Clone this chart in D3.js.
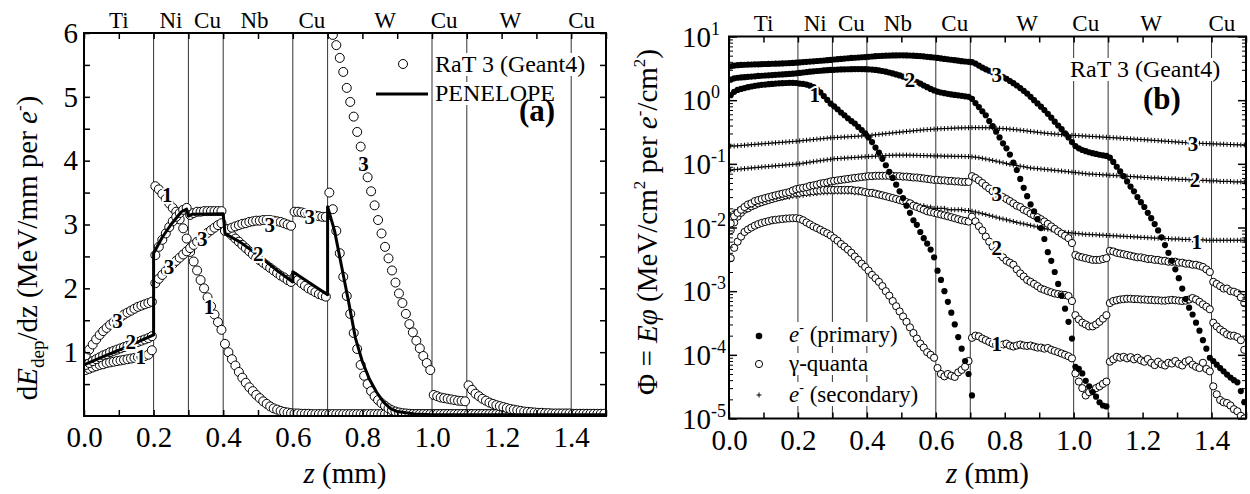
<!DOCTYPE html>
<html><head><meta charset="utf-8">
<script src="https://cdnjs.cloudflare.com/ajax/libs/d3/7.8.5/d3.min.js"></script>
<style>
body{margin:0;background:#fff}
text{font-family:'Liberation Serif','LiberationSerif','Times New Roman',Times,'DejaVu Serif',serif !important}
</style>
</head><body>
<svg id="c" width="1250" height="494"></svg>
<script>
// ---------------- DATA ----------------
// bin centres (mm): 0.005 ... 1.495, step 0.01
const zBins = d3.range(150).map(i => +(0.005 + 0.01 * i).toFixed(3));
const layerBounds = [0.2, 0.3, 0.4, 0.6, 0.7, 1.0, 1.1, 1.4];
const layerNames = ["Ti", "Ni", "Cu", "Nb", "Cu", "W", "Cu", "W", "Cu"];
const layerLabelZ = [0.1, 0.25, 0.355, 0.49, 0.655, 0.865, 1.035, 1.225, 1.43];
const xTickLabels = [0, 0.2, 0.4, 0.6, 0.8, 1.0, 1.2, 1.4];
const yTickLabelsA = [1, 2, 3, 4, 5, 6];
const yTickLabelsB = [1e-5, 1e-4, 1e-3, 1e-2, 1e-1, 1, 10];

// (a) dE_dep/dz, RaT 3 (Geant4), energies 1,2,3
const a1 = [0.72,0.74,0.76,0.78,0.80,0.81,0.83,0.84,0.85,0.86,0.87,0.88,0.89,0.90,0.91,0.92,0.93,0.94,0.96,1.03,
 3.60,3.55,3.48,3.40,3.33,3.26,3.20,3.08,2.94,2.78,
 2.57,2.42,2.28,2.13,2.00,1.86,1.72,1.59,1.47,1.35,
 1.13,1.00,0.89,0.79,0.69,0.60,0.52,0.45,0.39,0.33,0.28,0.23,0.19,0.15,0.12,0.10,0.08,0.065,0.055,0.045,
 0.04,0.04,0.035,0.035,0.035,0.03,0.03,0.03,0.03,0.03,
 0.03,0.03,0.03,0.03,0.03,0.03,0.03,0.03,0.03,0.03,0.03,0.03,0.03,0.03,0.03,0.03,0.03,0.03,0.03,0.03,0.03,0.03,0.03,0.03,0.03,0.03,0.03,0.03,0.03,0.03,
 0.03,0.03,0.03,0.03,0.03,0.03,0.03,0.03,0.03,0.03,
 0.03,0.03,0.03,0.03,0.03,0.03,0.03,0.03,0.03,0.03,0.03,0.03,0.03,0.03,0.03,0.03,0.03,0.03,0.03,0.03,0.03,0.03,0.03,0.03,0.03,0.03,0.03,0.03,0.03,0.03,
 0.03,0.03,0.03,0.03,0.03,0.03,0.03,0.03,0.03,0.03];
const a2 = [0.80,0.83,0.86,0.89,0.92,0.95,0.97,1.00,1.02,1.04,1.06,1.08,1.10,1.12,1.14,1.16,1.18,1.20,1.22,1.25,
 2.52,2.65,2.76,2.86,2.96,3.05,3.12,3.18,3.23,3.26,
 3.15,3.18,3.20,3.20,3.21,3.21,3.21,3.21,3.21,3.21,
 2.93,2.88,2.83,2.78,2.73,2.68,2.63,2.58,2.53,2.48,2.44,2.40,2.36,2.32,2.28,2.24,2.20,2.17,2.13,2.10,
 2.18,2.13,2.08,2.04,2.00,1.97,1.94,1.91,1.89,1.87,
 3.50,3.24,2.90,2.55,2.18,1.88,1.60,1.30,1.05,0.80,0.63,0.50,0.39,0.31,0.25,0.20,0.16,0.12,0.09,0.07,0.055,0.045,0.04,0.035,0.03,0.03,0.03,0.03,0.03,0.03,
 0.03,0.03,0.03,0.03,0.03,0.03,0.03,0.03,0.03,0.03,
 0.03,0.03,0.03,0.03,0.03,0.03,0.03,0.03,0.03,0.03,0.03,0.03,0.03,0.03,0.03,0.03,0.03,0.03,0.03,0.03,0.03,0.03,0.03,0.03,0.03,0.03,0.03,0.03,0.03,0.03,
 0.03,0.03,0.03,0.03,0.03,0.03,0.03,0.03,0.03,0.03];
const a3 = [0.95,1.04,1.12,1.20,1.27,1.33,1.38,1.43,1.47,1.51,1.55,1.59,1.62,1.65,1.68,1.71,1.73,1.75,1.77,1.79,
 2.08,2.15,2.21,2.27,2.33,2.38,2.43,2.48,2.53,2.58,
 2.63,2.68,2.73,2.78,2.83,2.87,2.91,2.95,2.99,3.02,
 2.90,2.93,2.95,2.97,2.99,3.01,3.02,3.04,3.05,3.06,3.06,3.07,3.07,3.07,3.06,3.05,3.04,3.02,3.00,2.98,
 3.20,3.20,3.19,3.18,3.17,3.15,3.14,3.13,3.12,3.12,
 6.15,5.97,5.81,5.61,5.39,5.14,4.92,4.69,4.45,4.22,3.98,3.74,3.52,3.30,3.07,2.86,2.65,2.47,2.28,2.09,1.92,1.77,1.60,1.44,1.31,1.18,1.06,0.94,0.83,0.72,
 0.33,0.31,0.29,0.28,0.27,0.26,0.25,0.24,0.235,0.23,
 0.48,0.41,0.35,0.31,0.27,0.24,0.21,0.19,0.17,0.155,0.14,0.125,0.11,0.10,0.09,0.08,0.07,0.065,0.06,0.055,0.05,0.05,0.045,0.045,0.04,0.04,0.04,0.04,0.04,0.04,
 0.035,0.035,0.035,0.035,0.035,0.035,0.035,0.035,0.035,0.035];
// PENELOPE (energy 2)
const penZ = [0,0.05,0.1,0.15,0.2,0.2,0.225,0.25,0.28,0.295,0.3,0.31,0.4,0.405,0.45,0.5,0.55,0.6,0.6,0.65,0.7,0.7,0.72,0.74,0.76,0.78,0.8,0.82,0.84,0.86,0.88,0.9,0.95,1.0,1.1,1.2,1.3,1.4,1.5];
const penV = [0.8,0.92,1.03,1.15,1.27,2.55,2.8,3.0,3.2,3.24,3.13,3.16,3.17,2.86,2.72,2.52,2.3,2.1,2.26,2.08,1.9,3.28,2.9,2.35,1.8,1.22,0.85,0.58,0.38,0.22,0.12,0.07,0.03,0.02,0.02,0.02,0.02,0.02,0.02];

// (b) energy flux: primary electrons
const p1 = [1.20,1.35,1.45,1.50,1.55,1.60,1.64,1.68,1.71,1.74,1.76,1.78,1.80,1.82,1.84,1.85,1.86,1.87,1.87,1.86,
 1.82,1.80,1.76,1.69,1.60,1.48,1.33,1.16,1.01,0.88,
 0.80,0.72,0.64,0.58,0.52,0.47,0.43,0.38,0.34,0.30,
 0.26,0.22,0.18,0.15,0.12,0.095,0.075,0.06,0.047,0.037,0.029,0.022,0.017,0.013,0.011,0.0085,0.0068,0.0056,0.0045,0.0034,
 0.0021,0.0015,0.001,0.00068,0.00046,0.0003,0.00019,0.000125,0.00008,0.00005,
 0.000023,null,null,null,null,null,null,null,null,null,null,null,null,null,null,null,null,null,null,null,null,null,null,null,null,null,null,null,null,null,
 null,null,null,null,null,null,null,null,null,null,
 null,null,null,null,null,null,null,null,null,null,null,null,null,null,null,null,null,null,null,null,null,null,null,null,null,null,null,null,null,null,
 null,null,null,null,null,null,null,null,null,null];
const p2 = [2.10,2.20,2.25,2.28,2.30,2.33,2.35,2.37,2.40,2.42,2.44,2.46,2.48,2.50,2.52,2.54,2.56,2.58,2.61,2.64,
 2.68,2.72,2.76,2.80,2.84,2.87,2.90,2.93,2.96,2.98,
 3.00,3.02,3.04,3.05,3.06,3.07,3.08,3.08,3.08,3.07,
 3.05,3.02,2.98,2.93,2.87,2.80,2.72,2.63,2.54,2.45,2.35,2.25,2.15,2.05,1.93,1.82,1.70,1.60,1.50,1.42,
 1.36,1.32,1.29,1.26,1.23,1.21,1.19,1.17,1.15,1.13,
 1.05,0.90,0.78,0.67,0.58,0.47,0.39,0.32,0.26,0.21,0.175,0.14,0.105,0.08,0.058,0.042,0.031,0.023,0.018,0.0135,0.0098,0.0066,0.0041,0.003,0.002,0.0013,0.00085,0.00053,0.00033,0.00018,
 0.000065,0.00006,0.000051,0.000039,0.000032,0.000026,0.000022,0.000018,0.000016,0.0000155,
 null,null,null,null,null,null,null,null,null,null,null,null,null,null,null,null,null,null,null,null,null,null,null,null,null,null,null,null,null,null,
 null,null,null,null,null,null,null,null,null,null];
const p3 = [3.40,3.50,3.55,3.58,3.60,3.62,3.63,3.65,3.66,3.68,3.70,3.71,3.73,3.74,3.76,3.78,3.80,3.82,3.85,3.88,
 3.92,3.96,4.00,4.04,4.08,4.12,4.16,4.20,4.24,4.28,
 4.35,4.40,4.45,4.50,4.55,4.60,4.64,4.68,4.72,4.76,
 4.80,4.85,4.90,4.94,4.98,5.00,5.02,5.04,5.05,5.06,5.06,5.05,5.03,5.00,4.96,4.92,4.87,4.80,4.74,4.68,
 4.60,4.52,4.45,4.38,4.31,4.24,4.17,4.10,4.05,4.00,
 3.95,3.75,3.50,3.25,3.05,2.90,2.75,2.60,2.45,2.30,2.17,2.00,1.85,1.70,1.55,1.40,1.27,1.13,1.00,0.89,0.79,0.70,0.61,0.53,0.46,0.40,0.35,0.30,0.26,0.22,
 0.19,0.175,0.165,0.158,0.152,0.147,0.143,0.139,0.136,0.133,
 0.125,0.107,0.09,0.076,0.064,0.053,0.044,0.037,0.03,0.025,0.021,0.017,0.014,0.0113,0.009,0.007,0.0053,0.004,0.003,0.0022,0.0016,0.0011,0.00075,0.00055,0.00043,0.00032,0.00024,0.00017,0.000125,0.00009,
 0.00008,0.00007,0.000062,0.000055,0.000049,0.000044,0.00004,0.000037,0.000027,0.000018];
// gamma quanta
const g1 = [0.0033,0.0048,0.006,0.0072,0.0085,0.0093,0.01,0.0107,0.0113,0.0118,0.0122,0.0126,0.013,0.0132,0.0134,0.0136,0.0138,0.0139,0.014,0.014,
 0.0137,0.013,0.012,0.0112,0.0104,0.0098,0.0092,0.0086,0.0081,0.0075,
 0.0068,0.0062,0.0055,0.005,0.0045,0.004,0.0035,0.0031,0.0027,0.0024,
 0.0021,0.0018,0.0016,0.0014,0.0012,0.001,0.00085,0.0007,0.00058,0.00048,0.0004,0.00033,0.00027,0.00022,0.00018,0.00015,0.00013,0.00011,0.0001,0.00009,
 0.000062,0.00005,0.000046,0.00005,0.000047,0.000045,0.000053,0.000058,0.000065,0.00008,
 0.000185,0.0002,0.000195,0.00018,0.00017,0.00016,0.00015,0.000145,0.00014,0.000145,0.00015,0.00014,0.000135,0.00014,0.000145,0.00014,0.000138,0.00014,0.000135,0.00013,0.00013,0.000125,0.000128,0.00012,0.000115,0.00011,0.000105,0.0001,0.000095,0.000088,
 0.000051,0.000038,0.00003,0.000023,0.000026,0.000028,0.00003,0.000032,0.000035,0.000038,
 0.000078,0.000085,0.000093,0.00009,0.000093,0.000088,0.000092,0.000085,0.00009,0.000082,0.000078,0.000086,0.000075,0.000069,0.000078,0.000071,0.000068,0.000075,0.000073,0.00008,0.000072,0.000068,0.000078,0.000082,0.00007,0.000065,0.000062,0.000075,0.00006,0.000055,
 0.000032,0.000024,0.0000195,0.000018,0.0000175,0.000016,0.000014,0.000013,0.000011,0.00001];
const g2 = [0.0091,0.012,0.0148,0.017,0.019,0.020,0.0215,0.0226,0.024,0.025,0.026,0.027,0.028,0.029,0.030,0.031,0.032,0.033,0.034,0.035,
 0.035,0.036,0.036,0.037,0.037,0.038,0.038,0.039,0.039,0.039,
 0.039,0.039,0.039,0.039,0.039,0.039,0.038,0.038,0.037,0.036,
 0.035,0.035,0.034,0.033,0.032,0.031,0.030,0.029,0.028,0.027,0.026,0.025,0.024,0.022,0.021,0.020,0.019,0.018,0.0175,0.017,
 0.0165,0.016,0.0155,0.015,0.0145,0.014,0.0135,0.013,0.0127,0.0124,
 0.0148,0.0125,0.0105,0.009,0.0072,0.006,0.005,0.0043,0.0038,0.0034,0.003,0.0028,0.0026,0.0022,0.0019,0.0017,0.0015,0.0014,0.0013,0.0012,0.0011,0.00105,0.001,0.00096,0.00092,0.0009,0.00088,0.00087,0.00084,0.0007,
 0.00042,0.00036,0.00032,0.0003,0.00028,0.00028,0.0003,0.00033,0.00037,0.00042,
 0.00065,0.0007,0.00072,0.00074,0.00075,0.00076,0.00076,0.00075,0.00075,0.00074,0.00074,0.00073,0.00073,0.00072,0.00072,0.00071,0.00071,0.00072,0.00073,0.00072,0.00071,0.0007,0.00071,0.00074,0.00078,0.00074,0.00068,0.00062,0.00057,0.00052,
 0.00032,0.00028,0.00025,0.00023,0.00021,0.0002,0.0002,0.00019,0.00017,0.00012];
const g3 = [0.0116,0.015,0.017,0.019,0.021,0.023,0.024,0.026,0.027,0.028,0.029,0.030,0.031,0.032,0.033,0.034,0.035,0.036,0.038,0.040,
 0.041,0.042,0.043,0.045,0.046,0.047,0.049,0.050,0.051,0.053,
 0.054,0.055,0.056,0.057,0.058,0.059,0.060,0.061,0.062,0.063,
 0.064,0.064,0.065,0.065,0.065,0.065,0.065,0.065,0.064,0.064,0.063,0.063,0.062,0.061,0.061,0.060,0.059,0.058,0.057,0.056,
 0.056,0.055,0.055,0.054,0.054,0.053,0.053,0.052,0.052,0.052,
 0.064,0.060,0.055,0.050,0.045,0.041,0.037,0.034,0.032,0.030,0.028,0.026,0.024,0.022,0.021,0.019,0.018,0.0165,0.0155,0.0145,0.0135,0.0124,0.0114,0.0104,0.0095,0.0087,0.0080,0.0074,0.0068,0.0057,
 0.0037,0.0035,0.0034,0.0033,0.0032,0.0031,0.0031,0.0031,0.0032,0.0033,
 0.0043,0.0042,0.0040,0.0039,0.0038,0.0037,0.0036,0.0035,0.0034,0.0034,0.0033,0.0032,0.0032,0.0031,0.0031,0.0030,0.0030,0.0029,0.0029,0.0029,0.0028,0.0028,0.0027,0.0027,0.0026,0.0026,0.0025,0.0024,0.0022,0.0020,
 0.0014,0.0013,0.0012,0.0011,0.0011,0.0010,0.00098,0.00093,0.0008,0.00065];
// secondary electrons
const s1 = [0.016,0.018,0.019,0.02,0.021,0.022,0.023,0.024,0.025,0.026,0.026,0.027,0.028,0.028,0.029,0.029,0.03,0.03,0.031,0.031,
 0.032,0.032,0.033,0.033,0.034,0.034,0.035,0.035,0.035,0.036,
 0.036,0.036,0.036,0.036,0.036,0.036,0.035,0.035,0.035,0.034,
 0.034,0.033,0.033,0.032,0.031,0.031,0.03,0.029,0.028,0.027,0.026,0.025,0.024,0.024,0.023,0.022,0.022,0.021,0.021,0.02,
 0.02,0.02,0.02,0.019,0.019,0.019,0.019,0.019,0.0185,0.0185,
 0.018,0.0175,0.017,0.0165,0.016,0.0155,0.015,0.0145,0.014,0.0136,0.0132,0.0128,0.0124,0.012,0.0117,0.0114,0.0111,0.0108,0.0105,0.0102,0.0099,0.0096,0.0094,0.0092,0.009,0.0088,0.0086,0.0084,0.0083,0.0082,
 0.0081,0.008,0.0079,0.0078,0.0078,0.0077,0.0077,0.0076,0.0076,0.0075,
 0.0075,0.0074,0.0074,0.0073,0.0073,0.0072,0.0072,0.0071,0.0071,0.007,0.007,0.0069,0.0069,0.0068,0.0068,0.0068,0.0067,0.0067,0.0066,0.0066,0.0066,0.0065,0.0065,0.0065,0.0064,0.0064,0.0064,0.0064,0.0063,0.0063,
 0.0063,0.0063,0.0063,0.0063,0.0063,0.0063,0.0063,0.0063,0.0063,0.0063];
const s2 = [0.08,0.081,0.082,0.083,0.084,0.085,0.086,0.087,0.088,0.089,0.09,0.091,0.092,0.093,0.094,0.095,0.096,0.097,0.098,0.099,
 0.1,0.102,0.104,0.106,0.108,0.11,0.112,0.114,0.116,0.118,
 0.12,0.121,0.122,0.123,0.124,0.125,0.126,0.127,0.128,0.129,
 0.13,0.131,0.132,0.133,0.134,0.135,0.136,0.136,0.137,0.137,0.137,0.137,0.137,0.136,0.136,0.135,0.135,0.134,0.134,0.133,
 0.133,0.133,0.132,0.132,0.132,0.131,0.131,0.131,0.13,0.13,
 0.129,0.127,0.125,0.122,0.119,0.116,0.113,0.11,0.107,0.104,0.101,0.098,0.096,0.094,0.092,0.09,0.088,0.086,0.085,0.084,0.083,0.082,0.081,0.08,0.079,0.078,0.077,0.076,0.075,0.074,
 0.073,0.072,0.071,0.07,0.069,0.069,0.068,0.068,0.067,0.067,
 0.066,0.066,0.065,0.065,0.064,0.064,0.063,0.063,0.062,0.062,0.061,0.061,0.06,0.06,0.06,0.059,0.059,0.058,0.058,0.058,0.057,0.057,0.057,0.056,0.056,0.056,0.055,0.055,0.055,0.054,
 0.054,0.054,0.053,0.053,0.053,0.053,0.052,0.052,0.052,0.052];
const s3 = [0.19,0.19,0.192,0.194,0.196,0.198,0.2,0.202,0.204,0.206,0.208,0.21,0.212,0.214,0.216,0.218,0.22,0.222,0.224,0.226,
 0.229,0.232,0.235,0.238,0.241,0.244,0.247,0.25,0.253,0.256,
 0.258,0.26,0.262,0.264,0.266,0.268,0.27,0.272,0.274,0.276,
 0.278,0.282,0.286,0.29,0.294,0.298,0.302,0.306,0.31,0.314,0.318,0.322,0.326,0.33,0.334,0.338,0.342,0.345,0.348,0.351,
 0.354,0.356,0.358,0.36,0.362,0.364,0.366,0.367,0.368,0.369,
 0.37,0.37,0.37,0.37,0.369,0.368,0.366,0.364,0.361,0.358,0.355,0.351,0.347,0.343,0.338,0.333,0.328,0.323,0.318,0.313,0.308,0.304,0.3,0.297,0.294,0.291,0.288,0.285,0.283,0.281,
 0.279,0.277,0.275,0.273,0.271,0.269,0.267,0.265,0.263,0.261,
 0.259,0.257,0.255,0.253,0.251,0.249,0.247,0.245,0.243,0.241,0.239,0.237,0.235,0.233,0.231,0.229,0.227,0.225,0.223,0.221,0.219,0.217,0.215,0.213,0.212,0.211,0.21,0.209,0.208,0.207,
 0.206,0.205,0.204,0.203,0.202,0.201,0.2,0.199,0.198,0.198];

// curve number annotations: [text, z, value]
const labelsA = [["1",0.163,0.93],["2",0.134,1.16],["3",0.096,1.5],["1",0.239,3.46],["3",0.244,2.34],
 ["3",0.34,2.78],["1",0.359,1.71],["2",0.501,2.55],["3",0.534,2.99],["3",0.649,3.12],["3",0.803,3.96]];
const labelsB = [["1",0.249,1.2],["2",0.525,2.07],["3",0.777,2.48],["3",0.777,0.0344],["2",0.777,0.00476],
 ["1",0.777,1.52e-4],["3",1.346,0.21],["2",1.352,0.0557],["1",1.357,0.006]];

// ---------------- DRAW ----------------
const SERIF = "'Liberation Serif','Times New Roman',Times,'DejaVu Serif',serif";
const svg = d3.select("#c").attr("font-family", SERIF);
const xA = d3.scaleLinear().domain([0, 1.5]).range([84, 606]);
const yA = d3.scaleLinear().domain([0, 6]).range([416, 33]);
const xB = d3.scaleLinear().domain([0, 1.5]).range([729, 1246]);
const yB = d3.scaleLog().domain([1e-5, 10]).range([418.5, 36.5]);

const defs = svg.append("defs");
function clip(id, x, y) {
  defs.append("clipPath").attr("id", id).append("rect")
    .attr("x", x.range()[0]).attr("y", y.range()[1])
    .attr("width", x.range()[1] - x.range()[0]).attr("height", y.range()[0] - y.range()[1]);
}
clip("ca", xA, yA); clip("cb", xB, yB);

function layers(x, y) {
  const g = svg.append("g");
  g.selectAll("line").data(layerBounds).join("line")
    .attr("x1", d => x(d)).attr("x2", d => x(d))
    .attr("y1", y.range()[1]).attr("y2", y.range()[0])
    .attr("stroke", "#333").attr("stroke-width", 1);
  svg.append("g").selectAll("text").data(layerNames).join("text")
    .attr("x", (d, i) => x(layerLabelZ[i])).attr("y", y.range()[1] - 5.5)
    .attr("text-anchor", "middle").attr("font-size", 23).text(d => d);
}
layers(xA, yA); layers(xB, yB);

function xAxes(x, y) {
  const all = d3.range(16).map(i => i / 10);
  const bottom = svg.append("g").attr("transform", `translate(0,${y.range()[0]})`)
    .call(d3.axisBottom(x).tickValues(all).tickSize(-6)
      .tickFormat(d => xTickLabels.some(v => Math.abs(v - d) < 1e-9) ? d3.format(".1f")(d) : ""));
  bottom.attr("font-family", SERIF);
  bottom.select(".domain").remove();
  bottom.selectAll("line").attr("stroke-width", 1.5);
  bottom.selectAll("text").attr("y", 31).attr("dy", null).attr("font-size", 29).attr("fill", "#000");
  const top = svg.append("g").attr("transform", `translate(0,${y.range()[1]})`)
    .call(d3.axisTop(x).tickValues(all).tickSize(-6).tickFormat(""));
  top.select(".domain").remove();
  top.selectAll("line").attr("stroke-width", 1.5);
}

function frame(x, y) {
  svg.append("rect").attr("x", x.range()[0]).attr("y", y.range()[1])
    .attr("width", x.range()[1] - x.range()[0]).attr("height", y.range()[0] - y.range()[1])
    .attr("fill", "none").attr("stroke", "#000").attr("stroke-width", 2);
}

// ----- panel (a) data -----
const gA = svg.append("g").attr("clip-path", "url(#ca)");
[a1, a2, a3].forEach(s => {
  gA.append("g").selectAll("circle").data(zBins.map((z, i) => [z, s[i]]).filter(d => d[1] != null))
    .join("circle").attr("cx", d => xA(d[0])).attr("cy", d => yA(d[1])).attr("r", 4.5)
    .attr("fill", "#fff").attr("stroke", "#000").attr("stroke-width", 1);
});
gA.append("path").datum(penZ.map((z, i) => [z, penV[i]]))
  .attr("d", d3.line().x(d => xA(d[0])).y(d => yA(d[1])))
  .attr("fill", "none").attr("stroke", "#000").attr("stroke-width", 3).attr("stroke-linejoin", "round");

// ----- panel (b) data -----
const gB = svg.append("g").attr("clip-path", "url(#cb)");
[s1, s2, s3].forEach(s => {
  gB.append("g").selectAll("path").data(zBins.map((z, i) => [z, s[i]]).filter(d => d[1] != null))
    .join("path").attr("d", d => `M${xB(d[0]) - 2.5},${yB(d[1])}h5M${xB(d[0])},${yB(d[1]) - 2.5}v5`)
    .attr("stroke", "#000").attr("stroke-width", 1);
});
[g1, g2, g3].forEach(s => {
  gB.append("g").selectAll("circle").data(zBins.map((z, i) => [z, s[i]]).filter(d => d[1] != null))
    .join("circle").attr("cx", d => xB(d[0])).attr("cy", d => yB(d[1])).attr("r", 3.6)
    .attr("fill", "#fff").attr("stroke", "#000").attr("stroke-width", 1);
});
[p1, p2, p3].forEach(s => {
  gB.append("g").selectAll("circle").data(zBins.map((z, i) => [z, s[i]]).filter(d => d[1] != null))
    .join("circle").attr("cx", d => xB(d[0])).attr("cy", d => yB(d[1])).attr("r", 3.1)
    .attr("fill", "#000");
});

// curve labels
function curveLabels(list, x, y) {
  svg.append("g").selectAll("text").data(list).join("text")
    .attr("x", d => x(d[1])).attr("y", d => y(d[2]))
    .attr("dy", "0.35em").attr("text-anchor", "middle")
    .attr("font-size", 21).attr("font-weight", "bold")
    .attr("stroke", "#fff").attr("stroke-width", 4).attr("paint-order", "stroke")
    .text(d => d[0]);
}
curveLabels(labelsA, xA, yA);
curveLabels(labelsB, xB, yB);

// axes
xAxes(xA, yA); xAxes(xB, yB);
// left y (a)
const halfs = d3.range(1, 13).map(i => i / 2);
const la = svg.append("g").attr("transform", `translate(${xA.range()[0]},0)`)
  .call(d3.axisLeft(yA).tickValues(halfs).tickSize(-6)
    .tickFormat(d => yTickLabelsA.includes(d) ? String(d) : ""));
la.attr("font-family", SERIF);
la.select(".domain").remove();
la.selectAll("line").attr("stroke-width", 1.5);
la.selectAll("text").attr("x", -6).attr("font-size", 29).attr("fill", "#000");
const ra = svg.append("g").attr("transform", `translate(${xA.range()[1]},0)`)
  .call(d3.axisRight(yA).tickValues(halfs).tickSize(-6).tickFormat(""));
ra.select(".domain").remove();
ra.selectAll("line").attr("stroke-width", 1.5);

// log y (b)
const minor = [];
yTickLabelsB.slice(0, -1).forEach(p => { for (let m = 2; m <= 9; m++) minor.push(p * m); });
[[d3.axisLeft, xB.range()[0]], [d3.axisRight, xB.range()[1]]].forEach(([ax, px]) => {
  const gm = svg.append("g").attr("transform", `translate(${px},0)`)
    .call(ax(yB).tickValues(yTickLabelsB).tickSize(-8).tickFormat(""));
  gm.select(".domain").remove(); gm.selectAll("line").attr("stroke-width", 1.5);
  const gn = svg.append("g").attr("transform", `translate(${px},0)`)
    .call(ax(yB).tickValues(minor).tickSize(-4).tickFormat(""));
  gn.select(".domain").remove(); gn.selectAll("line").attr("stroke-width", 1);
});
const lb = svg.append("g");
yTickLabelsB.forEach(v => {
  const t = lb.append("text").attr("x", xB.range()[0] - 47).attr("y", yB(v) + 10).attr("font-size", 29);
  t.append("tspan").text("10");
  t.append("tspan").attr("font-size", 18).attr("dy", -12).text(String(Math.round(Math.log10(v))));
});

frame(xA, yA); frame(xB, yB);

// ---------- legends & titles ----------
function bgText(parent, x, y, size, build, opts = {}) {
  const t = parent.append("text").attr("x", x).attr("y", y).attr("font-size", size);
  if (opts.bold) t.attr("font-weight", "bold");
  build(t);
  if (opts.bg) {
    const b = t.node().getBBox();
    parent.insert("rect", () => t.node()).attr("x", b.x - 1).attr("y", b.y + 2)
      .attr("width", b.width + 2).attr("height", b.height - 3).attr("fill", "#fff");
  }
  return t;
}
const leg = svg.append("g");
leg.append("circle").attr("cx", 403).attr("cy", 64).attr("r", 4.5).attr("fill", "#fff").attr("stroke", "#000");
bgText(leg, 435, 72, 24, t => t.text("RaT 3 (Geant4)"), { bg: true });
leg.append("line").attr("x1", 376).attr("x2", 428).attr("y1", 94).attr("y2", 94).attr("stroke", "#000").attr("stroke-width", 3);
bgText(leg, 435, 101, 24, t => t.text("PENELOPE"), { bg: true });
bgText(leg, 519, 121, 31, t => t.text("(a)"), { bold: true });

bgText(leg, 1070, 77, 24, t => t.text("RaT 3 (Geant4)"), { bg: true });
bgText(leg, 1143, 109, 31, t => t.text("(b)"), { bold: true });

leg.append("circle").attr("cx", 759).attr("cy", 336).attr("r", 3.3).attr("fill", "#000");
leg.append("circle").attr("cx", 759).attr("cy", 364).attr("r", 3.6).attr("fill", "#fff").attr("stroke", "#000");
leg.append("path").attr("d", "M756.5,395h5M759,392.5v5").attr("stroke", "#000");
bgText(leg, 789, 342, 23, t => {
  t.append("tspan").attr("font-style", "italic").text("e");
  t.append("tspan").attr("font-size", 14).attr("dy", -10).text("-");
  t.append("tspan").attr("dy", 10).text(" (primary)");
}, { bg: true });
bgText(leg, 789, 371, 23, t => t.text("γ-quanta"), { bg: true });
bgText(leg, 789, 402, 23, t => {
  t.append("tspan").attr("font-style", "italic").text("e");
  t.append("tspan").attr("font-size", 14).attr("dy", -10).text("-");
  t.append("tspan").attr("dy", 10).text(" (secondary)");
}, { bg: true });

// axis titles
function xTitle(x) {
  const t = svg.append("text").attr("x", (x.range()[0] + x.range()[1]) / 2).attr("y", 483)
    .attr("text-anchor", "middle").attr("font-size", 29);
  t.append("tspan").attr("font-style", "italic").text("z");
  t.append("tspan").text(" (mm)");
}
xTitle(xA); xTitle(xB);

const ta = svg.append("text").attr("transform", "translate(37,248) rotate(-90)")
  .attr("text-anchor", "middle").attr("font-size", 29);
ta.append("tspan").text("d");
ta.append("tspan").attr("font-style", "italic").text("E");
ta.append("tspan").attr("font-size", 19).attr("dy", 7).text("dep");
ta.append("tspan").attr("dy", -7).text("/dz (MeV/mm per ");
ta.append("tspan").attr("font-style", "italic").text("e");
ta.append("tspan").attr("font-size", 17).attr("dy", -12).text("-");
ta.append("tspan").attr("dy", 12).text(")");

const tb = svg.append("text").attr("transform", "translate(657,222) rotate(-90)")
  .attr("text-anchor", "middle").attr("font-size", 29);
tb.append("tspan").text("Φ = ");
tb.append("tspan").attr("font-style", "italic").text("Eφ");
tb.append("tspan").text(" (MeV/cm");
tb.append("tspan").attr("font-size", 17).attr("dy", -12).text("2");
tb.append("tspan").attr("dy", 12).text(" per ");
tb.append("tspan").attr("font-style", "italic").text("e");
tb.append("tspan").attr("font-size", 17).attr("dy", -12).text("-");
tb.append("tspan").attr("dy", 12).text("/cm");
tb.append("tspan").attr("font-size", 17).attr("dy", -12).text("2");
tb.append("tspan").attr("dy", 12).text(")");
</script>
</body></html>
